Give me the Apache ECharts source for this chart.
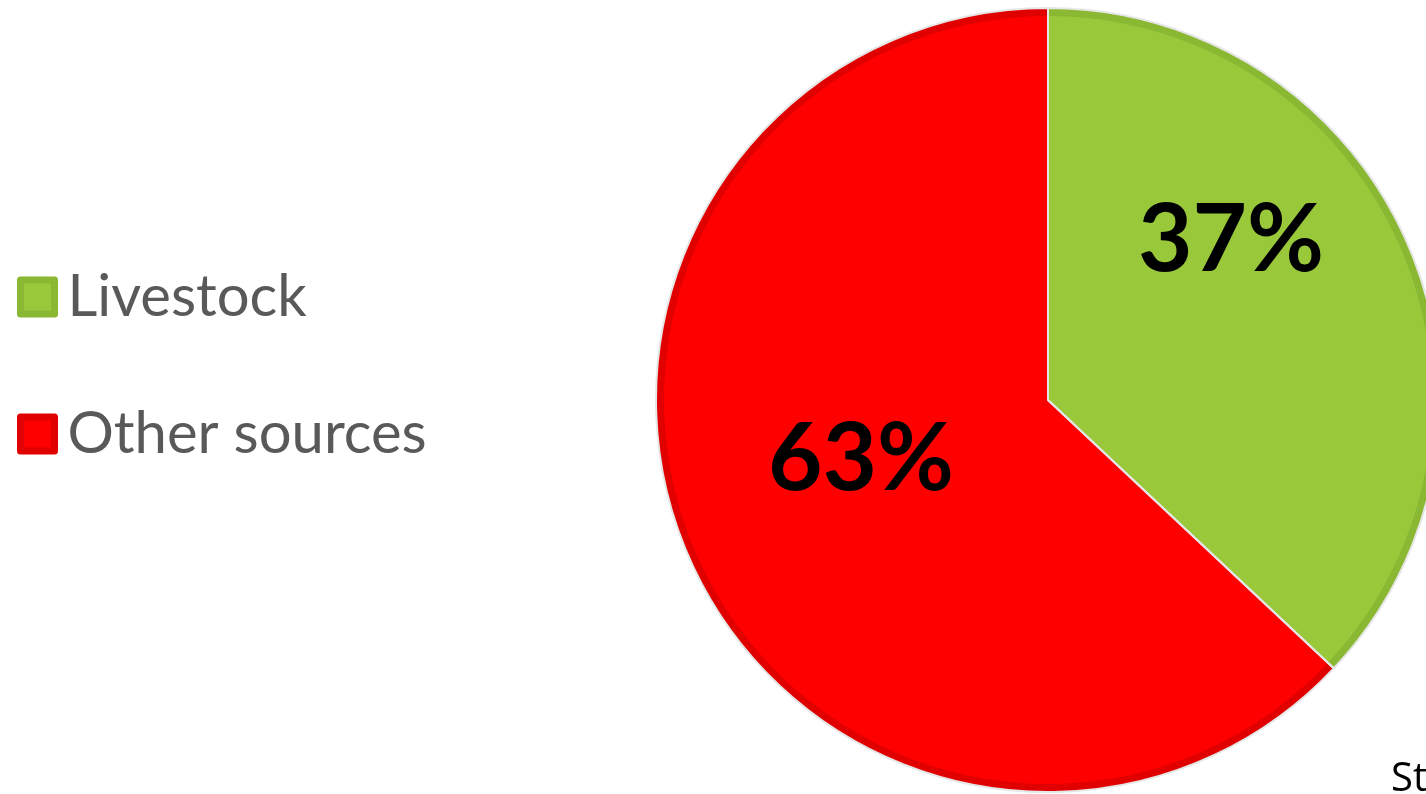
<!DOCTYPE html>
<html>
<head>
<meta charset="utf-8">
<script src="https://cdn.jsdelivr.net/npm/echarts@6/dist/echarts.min.js"></script>
<style>
  html, body { margin: 0; padding: 0; background: #fff; }
  #chart { width: 1426px; height: 794px; }
</style>
</head>
<body>
<div id="chart"></div>
<script>
// Share of emissions
const categories = ['Livestock', 'Other sources'];
const values = [37, 63];
const fillColors = ['#99c93b', '#ff0000'];
const edgeColors = ['#8ab833', '#e00000'];

const chart = echarts.init(document.getElementById('chart'));

// pie sits at the same place in every layer
const pieCenter = [1048, 400];

function makeData(colorList, withLabel) {
  return categories.map(function (name, i) {
    let item = { name: name, value: values[i], itemStyle: { color: colorList[i] } };
    if (withLabel) {
      item.label = { offset: i == 0 ? [4, -82] : [-8, -18] };
    }
    return item;
  });
}

const option = {
  backgroundColor: '#fff',
  animation: false,
  legend: {
    orient: 'vertical',
    left: 17,
    top: 268,
    padding: 0,
    itemWidth: 34,
    itemHeight: 34,
    itemGap: 79,
    icon: 'rect',
    selectedMode: false,
    textStyle: { fontFamily: 'Lato', fontSize: 58, color: '#595959', padding: [0, 0, 0, 8] },
    data: categories.map(function (name, i) {
      return { name: name, itemStyle: { color: fillColors[i], borderColor: edgeColors[i], borderWidth: 7 } };
    })
  },
  graphic: [{
    type: 'text',
    left: 1391,
    top: 760,
    style: { text: 'St', font: '40px "Open Sans"', fill: '#000' }
  }],
  series: [
    {
      // outer dark band
      type: 'pie',
      center: pieCenter,
      radius: 392,
      startAngle: 90,
      silent: true,
      label: { show: false },
      labelLine: { show: false },
      data: makeData(edgeColors, false)
    },
    {
      // main fill + percentage labels
      type: 'pie',
      center: pieCenter,
      radius: 384,
      startAngle: 90,
      silent: true,
      label: {
        show: true,
        position: 'inside',
        formatter: '{c}%',
        fontFamily: 'Lato',
        fontWeight: 'bold',
        fontSize: 94,
        color: '#000'
      },
      labelLine: { show: false },
      data: makeData(fillColors, true)
    },
    {
      // thin light separators
      type: 'pie',
      center: pieCenter,
      radius: 392,
      startAngle: 90,
      silent: true,
      label: { show: false },
      labelLine: { show: false },
      itemStyle: { color: 'rgba(0,0,0,0)', borderColor: '#e6e6e6', borderWidth: 2 },
      data: categories.map(function (name, i) { return { name: name + ' ', value: values[i] }; })
    }
  ]
};

chart.setOption(option);
</script>
</body>
</html>
